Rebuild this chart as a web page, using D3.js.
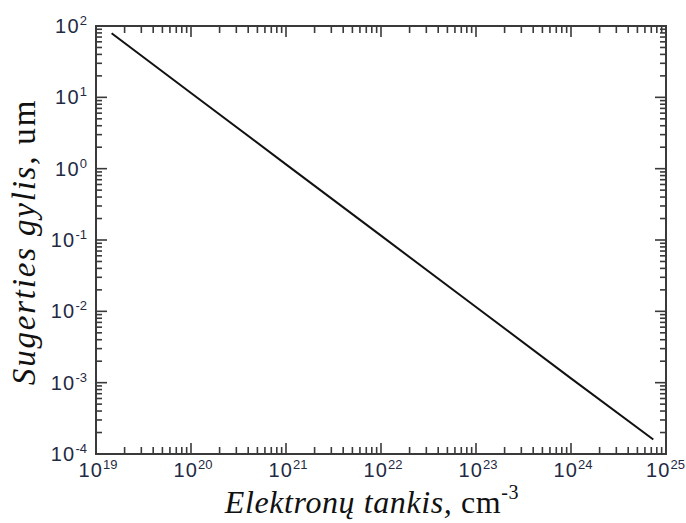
<!DOCTYPE html>
<html><head><meta charset="utf-8">
<script src="https://cdn.jsdelivr.net/npm/d3@7"></script>
<style>body{margin:0;background:#fff}</style></head>
<body><svg id="c" width="686" height="523"></svg>
<script>
// Data (electron density, cm^-3 vs absorption depth, um)
const density = [1.46e19, 1e20, 1e21, 1e22, 1e23, 1e24, 7.35e24];
const depth   = [79, 11.5, 1.15, 0.115, 0.0115, 0.00115, 1.6e-4];
const xTickExps = [19, 20, 21, 22, 23, 24, 25];
const yTickExps = [-4, -3, -2, -1, 0, 1, 2];
const xLabelItalic = "Elektronų tankis,";
const xLabelUnit = " cm";
const xLabelSup = "-3";
const yLabelItalic = "Sugerties gylis,";
const yLabelUnit = " um";

const L = 96, R = 666, T = 26, B = 454;
const svg = d3.select("#c");
const x = d3.scaleLog().domain([1e19, 1e25]).range([L, R]);
const y = d3.scaleLog().domain([1e-4, 1e2]).range([B, T]);

const axisCol = "#3a3a3a", labCol = "#1f2a44";
const majLen = 11, minLen = 7;

function minorsOf(exps) {
  const out = [];
  for (let i = 0; i < exps.length - 1; i++)
    for (let m = 2; m <= 9; m++) out.push(m * Math.pow(10, exps[i]));
  return out;
}
const xMaj = xTickExps.map(e => Math.pow(10, e));
const yMaj = yTickExps.map(e => Math.pow(10, e));
const xMin = minorsOf(xTickExps);
const yMin = minorsOf(yTickExps);

const g = svg.append("g");
function xt(vals, len) {
  vals.forEach(v => {
    g.append("line").attr("x1", x(v)).attr("x2", x(v)).attr("y1", B).attr("y2", B - len)
      .attr("stroke", axisCol).attr("stroke-width", 1.6);
    g.append("line").attr("x1", x(v)).attr("x2", x(v)).attr("y1", T).attr("y2", T + len)
      .attr("stroke", axisCol).attr("stroke-width", 1.6);
  });
}
function yt(vals, len) {
  vals.forEach(v => {
    g.append("line").attr("y1", y(v)).attr("y2", y(v)).attr("x1", L).attr("x2", L + len)
      .attr("stroke", axisCol).attr("stroke-width", 1.6);
    g.append("line").attr("y1", y(v)).attr("y2", y(v)).attr("x1", R).attr("x2", R - len)
      .attr("stroke", axisCol).attr("stroke-width", 1.6);
  });
}
xt(xMin, minLen); xt(xMaj, majLen); yt(yMin, minLen - 1); yt(yMaj, majLen);

g.append("rect").attr("x", L).attr("y", T).attr("width", R - L).attr("height", B - T)
  .attr("fill", "none").attr("stroke", axisCol).attr("stroke-width", 2);

const tf = "'Liberation Sans', Arial, sans-serif";
xTickExps.forEach(e => {
  const t = g.append("text").attr("y", 477)
    .attr("text-anchor", "start").attr("font-family", tf).attr("font-size", 20)
    .attr("letter-spacing", 1.2).attr("fill", labCol);
  t.append("tspan").text("10");
  t.append("tspan").attr("font-size", 13).attr("letter-spacing", 0).attr("dy", -8).text(e);
  const w = t.node().getComputedTextLength();
  let sx = x(Math.pow(10, e)) + 2 - w / 2;
  if (sx + w > 685) sx = 685 - w;
  t.attr("x", sx);
});
yTickExps.forEach(e => {
  const t = g.append("text").attr("x", 87).attr("y", y(Math.pow(10, e)) + 7)
    .attr("text-anchor", "end").attr("font-family", tf).attr("font-size", 20)
    .attr("letter-spacing", 1.2).attr("fill", labCol);
  t.append("tspan").text("10");
  t.append("tspan").attr("font-size", 13).attr("letter-spacing", 0).attr("dy", -8).text(e);
});

const line = d3.line().x((d, i) => x(density[i])).y((d, i) => y(depth[i]));
g.append("path").datum(density).attr("d", line).attr("fill", "none")
  .attr("stroke", "#111").attr("stroke-width", 2);

const sf = "'Liberation Serif', 'Times New Roman', serif";
const xl = g.append("text").attr("x", 372).attr("y", 513).attr("text-anchor", "middle")
  .attr("font-family", sf).attr("font-size", 32).attr("letter-spacing", 0.6).attr("fill", "#111");
xl.append("tspan").attr("font-style", "italic").text(xLabelItalic);
xl.append("tspan").text(xLabelUnit);
xl.append("tspan").attr("font-size", 20).attr("dy", -14).text(xLabelSup);

const yl = g.append("text").attr("transform", "translate(35,242) rotate(-90)")
  .attr("text-anchor", "middle").attr("font-family", sf).attr("font-size", 33)
  .attr("letter-spacing", 1.8).attr("fill", "#111");
yl.append("tspan").attr("font-style", "italic").text(yLabelItalic);
yl.append("tspan").text(yLabelUnit);
</script></body></html>
